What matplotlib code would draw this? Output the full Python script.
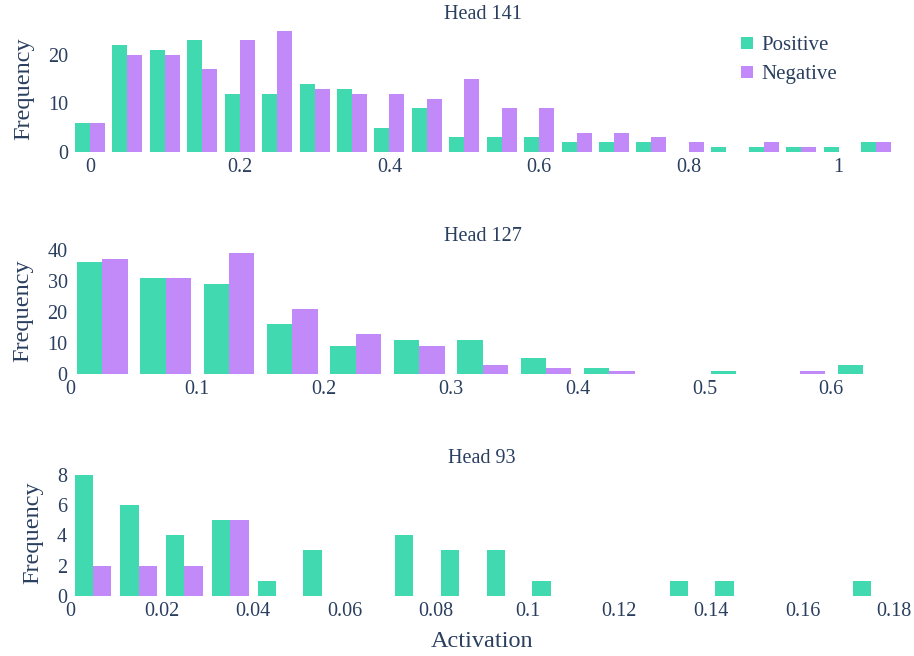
import numpy as np
import matplotlib
matplotlib.use("Agg")
import matplotlib.pyplot as plt
from matplotlib.lines import Line2D

plt.rcParams['font.family'] = ['Liberation Serif', 'DejaVu Serif']

TEXT = '#2a3f5f'
GREEN = '#41d9b0'
PURPLE = '#c18af8'

# Head 141: bins of width 0.05, centred on 0, 0.05, ..., 1.05
h141_start = -0.025
h141_width = 0.05
h141_pos = [6, 22, 21, 23, 12, 12, 14, 13, 5, 9, 3, 3, 3, 2, 2, 2, 0, 1, 1, 1, 1, 2]
h141_neg = [6, 20, 20, 17, 23, 25, 13, 12, 12, 11, 15, 9, 9, 4, 4, 3, 2, 0, 2, 1, 0, 2]
h141_ticks = [0, 0.2, 0.4, 0.6, 0.8, 1]
h141_ticklabels = ['0', '0.2', '0.4', '0.6', '0.8', '1']
h141_yticks = [0, 10, 20]

# Head 127: bins of width 0.05 from 0 to 0.65
h127_start = 0.0
h127_width = 0.05
h127_pos = [36, 31, 29, 16, 9, 11, 11, 5, 2, 0, 1, 0, 3]
h127_neg = [37, 31, 39, 21, 13, 9, 3, 2, 1, 0, 0, 1, 0]
h127_ticks = [0, 0.1, 0.2, 0.3, 0.4, 0.5, 0.6]
h127_ticklabels = ['0', '0.1', '0.2', '0.3', '0.4', '0.5', '0.6']
h127_yticks = [0, 10, 20, 30, 40]

# Head 93: bins of width 0.01 from 0 to 0.18
h93_start = 0.0
h93_width = 0.01
h93_pos = [8, 6, 4, 5, 1, 3, 0, 4, 3, 3, 1, 0, 0, 1, 1, 0, 0, 1]
h93_neg = [2, 2, 2, 5, 0, 0, 0, 0, 0, 0, 0, 0, 0, 0, 0, 0, 0, 0]
h93_ticks = [0, 0.02, 0.04, 0.06, 0.08, 0.1, 0.12, 0.14, 0.16, 0.18]
h93_ticklabels = ['0', '0.02', '0.04', '0.06', '0.08', '0.1', '0.12', '0.14', '0.16', '0.18']
h93_yticks = [0, 2, 4, 6, 8]

panels = [
    ("Head 141", h141_start, h141_width, h141_pos, h141_neg, h141_ticks, h141_ticklabels, h141_yticks),
    ("Head 127", h127_start, h127_width, h127_pos, h127_neg, h127_ticks, h127_ticklabels, h127_yticks),
    ("Head 93", h93_start, h93_width, h93_pos, h93_neg, h93_ticks, h93_ticklabels, h93_yticks),
]

W, H = 914, 656
fig = plt.figure(figsize=(W / 100, H / 100), dpi=100)

# axes boxes in pixels: left, right, top, bottom
boxes = [(71.3, 894.7, 24.5, 152.0),
         (70.5, 894.7, 247.0, 374.0),
         (70.0, 894.0, 469.0, 595.7)]

bargap = 0.2
for (title, start, width, pos, neg, ticks, ticklabels, yticks), (l, r, t, b) in zip(panels, boxes):
    ax = fig.add_axes([l / W, 1 - b / H, (r - l) / W, (b - t) / H])
    n = len(pos)
    left_edges = start + width * np.arange(n)
    group = width * (1 - bargap)
    half = group / 2
    x0 = left_edges + width * bargap / 2
    ax.bar(x0, pos, width=half, align='edge', color=GREEN, linewidth=0, label='Positive')
    ax.bar(x0 + half, neg, width=half, align='edge', color=PURPLE, linewidth=0, label='Negative')
    ax.set_xlim(start, start + width * n)
    ymax = max(max(pos), max(neg)) * 1.05
    ax.set_ylim(0, ymax)
    ax.set_xticks(ticks)
    ax.set_xticklabels(ticklabels)
    ax.set_yticks(yticks)
    for s in ax.spines.values():
        s.set_visible(False)
    ax.tick_params(axis='both', length=0, labelsize=14.5, colors=TEXT, labelcolor=TEXT)
    ax.tick_params(axis='x', pad=4.5)
    ax.tick_params(axis='y', pad=2)
    ax.set_title(title, fontsize=14.5, color=TEXT, pad=4)
    ax.set_ylabel('Frequency', fontsize=17.5, color=TEXT, labelpad=10)
    if title == "Head 141":
        handles = [Line2D([0], [0], marker='s', linestyle='none', markersize=8,
                          markerfacecolor=GREEN, markeredgewidth=0),
                   Line2D([0], [0], marker='s', linestyle='none', markersize=8,
                          markerfacecolor=PURPLE, markeredgewidth=0)]
        leg = ax.legend(handles, ['Positive', 'Negative'], loc='upper left',
                        bbox_to_anchor=(0.80, 0.98), frameon=False, fontsize=15,
                        handlelength=0.8, handletextpad=0.3, labelspacing=0.45,
                        borderaxespad=0)
        for txt in leg.get_texts():
            txt.set_color(TEXT)
    if title == "Head 93":
        ax.set_xlabel('Activation', fontsize=17.5, color=TEXT, labelpad=7)

fig.savefig('out.png', dpi=100, facecolor='white')
